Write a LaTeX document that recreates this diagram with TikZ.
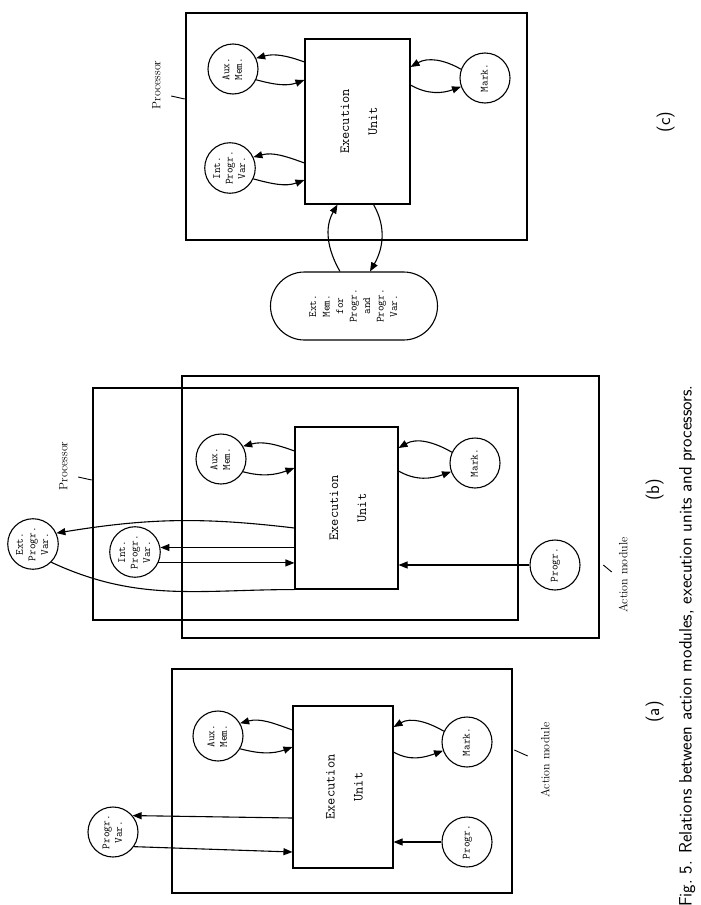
\documentclass[tikz,border=0pt]{standalone}
\usepackage{graphicx}
\usetikzlibrary{arrows.meta,calc}
\newcommand{\vlab}[1]{\rotatebox{90}{\begin{tabular}{@{}c@{}}#1\end{tabular}}}

\begin{document}
\begin{tikzpicture}[x=1pt, y=1pt,
  frame/.style={draw, line width=2.6pt, inner sep=0pt},
  unit/.style={draw, line width=1.1pt, inner sep=0pt,
               font=\ttfamily\fontsize{14}{28}\selectfont},
  store/.style={circle, draw, line width=1.1pt, minimum size=50pt, inner sep=0pt,
                font=\ttfamily\fontsize{11}{12.5}\selectfont},
  tag/.style={inner sep=0pt, font=\rmfamily\fontsize{12}{12}\selectfont},
  sub/.style={inner sep=0pt, font=\sffamily\fontsize{18}{18}\selectfont},
  arr/.style={-{Triangle[length=9pt,width=7pt]}, line width=1.1pt},
  tick/.style={line width=0.9pt}
]
\useasboundingbox (0,0) rectangle (701,-905);

% (a) action module
\node[frame, minimum width=340pt, minimum height=224pt] (am_a) at (342,-781) {};
\node[unit, minimum width=100pt, minimum height=162pt] (eu_a) at (343,-787) {\vlab{Execution\\Unit}};
\node[store] (aux_a) at (218,-736) {\vlab{Aux.\\Mem.}};
\node[store] (mark_a) at (467,-742) {\vlab{Mark.}};
\node[store] (pg_a) at (467,-842) {\vlab{Progr.}};
\node[store] (pv_a) at (113,-832) {\vlab{Progr.\\Var.}};
\node[tag] (lab_a) at (547,-760) {\vlab{Action module}};
\draw[tick] ($(am_a.east|-lab_a)+(1,10)$) -- ($(lab_a.west)+(-13,4)$);

\draw[arr] ($(eu_a.west|-aux_a)+(0,6)$) to[out=160,in=15] (aux_a.30);
\draw[arr] (aux_a.-30) to[out=-15,in=200] ($(eu_a.west|-aux_a)+(0,-11)$);
\draw[arr] (mark_a.155) to[out=150,in=30] ($(eu_a.east|-mark_a)+(0,15)$);
\draw[arr] ($(eu_a.east|-mark_a)+(0,-10)$) to[out=-30,in=200] (mark_a.200);
\draw[arr] (pg_a) -- (eu_a.east|-pg_a);
\draw[arr] ($(eu_a.west|-pv_a)+(0,14)$) -- (pv_a.40);
\draw[arr] (pv_a.-35) -- ($(eu_a.west|-pv_a)+(0,-20)$);

% (b) processor inside action module
\node[frame, minimum width=425pt, minimum height=232pt] (proc_b) at (305.5,-504) {};
\node[frame, minimum width=417pt, minimum height=262pt] (am_b) at (390.5,-507) {};
\node[unit, minimum width=103pt, minimum height=162pt] (eu_b) at (346.5,-508) {\vlab{Execution\\Unit}};
\node[store] (aux_b) at (221,-459) {\vlab{Aux.\\Mem.}};
\node[store] (mark_b) at (475,-463) {\vlab{Mark.}};
\node[store] (pg_b) at (555,-565) {\vlab{Progr.}};
\node[store] (int_b) at (135,-552) {\vlab{Int.\\Progr.\\Var.}};
\node[store] (ext_b) at (33,-544) {\vlab{Ext.\\Progr.\\Var.}};
\node[tag] (lab_pb) at (65,-466) {\vlab{Processor}};
\draw[tick] ($(lab_pb.east)+(7,-11)$) -- ($(proc_b.west|-lab_pb)+(0,-14)$);
\node[tag] (lab_amb) at (625,-575) {\vlab{Action module}};
\draw[tick] ($(am_b.east|-lab_amb)+(3,10)$) -- ($(lab_amb.west)+(-7,3)$);

\draw[arr] ($(eu_b.west|-aux_b)+(0,8)$) to[out=160,in=15] (aux_b.30);
\draw[arr] (aux_b.-30) to[out=-15,in=200] ($(eu_b.west|-aux_b)+(0,-9)$);
\draw[arr] (mark_b.155) to[out=150,in=30] ($(eu_b.east|-mark_b)+(0,15)$);
\draw[arr] ($(eu_b.east|-mark_b)+(0,-8)$) to[out=-30,in=200] (mark_b.200);
\draw[arr] (pg_b) -- (eu_b.east|-pg_b);
\draw[arr] (eu_b.west|-int_b.10) -- (int_b.10);
\draw[arr] (int_b.-25) -- (eu_b.west|-int_b.-25);
\draw[arr] ($(eu_b.west|-ext_b)+(0,16)$) to[bend right=8] (ext_b.25);
\draw[line width=1.1pt] (ext_b.-45) to[out=-25,in=180] (eu_b.south west);

% (c) processor with external memory
\node[frame, minimum width=341pt, minimum height=227pt] (proc_c) at (356.5,-126.5) {};
\node[unit, minimum width=105pt, minimum height=165pt] (eu_c) at (357.5,-121.5) {\vlab{Execution\\Unit}};
\node[store] (aux_c) at (233,-69) {\vlab{Aux.\\Mem.}};
\node[store] (int_c) at (230,-168) {\vlab{Int.\\Progr.\\Var.}};
\node[store] (mark_c) at (485,-78) {\vlab{Mark.}};
\node[draw, line width=1.1pt, rounded corners=34pt, minimum width=167pt, minimum height=68pt,
      inner sep=0pt, font=\ttfamily\fontsize{11}{13.5}\selectfont] (ext_c) at (354,-306)
      {\vlab{Ext.\\Mem.\\for\\Progr.\\and\\Progr.\\Var.}};
\node[tag] (lab_pc) at (158,-85) {\vlab{Processor}};
\draw[tick] ($(lab_pc.east)+(7,-11)$) -- ($(proc_c.west|-lab_pc)+(0,-14)$);

\draw[arr] ($(eu_c.west|-aux_c)+(0,7)$) to[out=160,in=15] (aux_c.25);
\draw[arr] (aux_c.-25) to[out=-15,in=200] ($(eu_c.west|-aux_c)+(0,-11)$);
\draw[arr] ($(eu_c.west|-int_c)+(0,5)$) to[out=160,in=15] (int_c.25);
\draw[arr] (int_c.-25) to[out=-15,in=200] ($(eu_c.west|-int_c)+(0,-12)$);
\draw[arr] (mark_c.160) to[out=150,in=30] ($(eu_c.east|-mark_c)+(0,11)$);
\draw[arr] ($(eu_c.east|-mark_c)+(0,-7)$) to[out=-30,in=200] (mark_c.200);
\draw[arr] ($(ext_c.north)+(-14,0)$) to[out=120,in=-120] ($(eu_c.south)+(-20,0)$);
\draw[arr] ($(eu_c.south)+(16,0)$) to[out=-60,in=60] ($(ext_c.north)+(16,0)$);

% sub-figure marks and caption
\node[sub] (sub_a) at (655,-712) {\vlab{(a)}};
\node[sub] (sub_b) at (655,-490) {\vlab{(b)}};
\node[sub] (sub_c) at (666,-122) {\vlab{(c)}};
\node[sub, anchor=south] (cap) at (688,-907)
  {\vlab{Fig.~5. Relations between action modules, execution units and processors.}};
\end{tikzpicture}
\end{document}
